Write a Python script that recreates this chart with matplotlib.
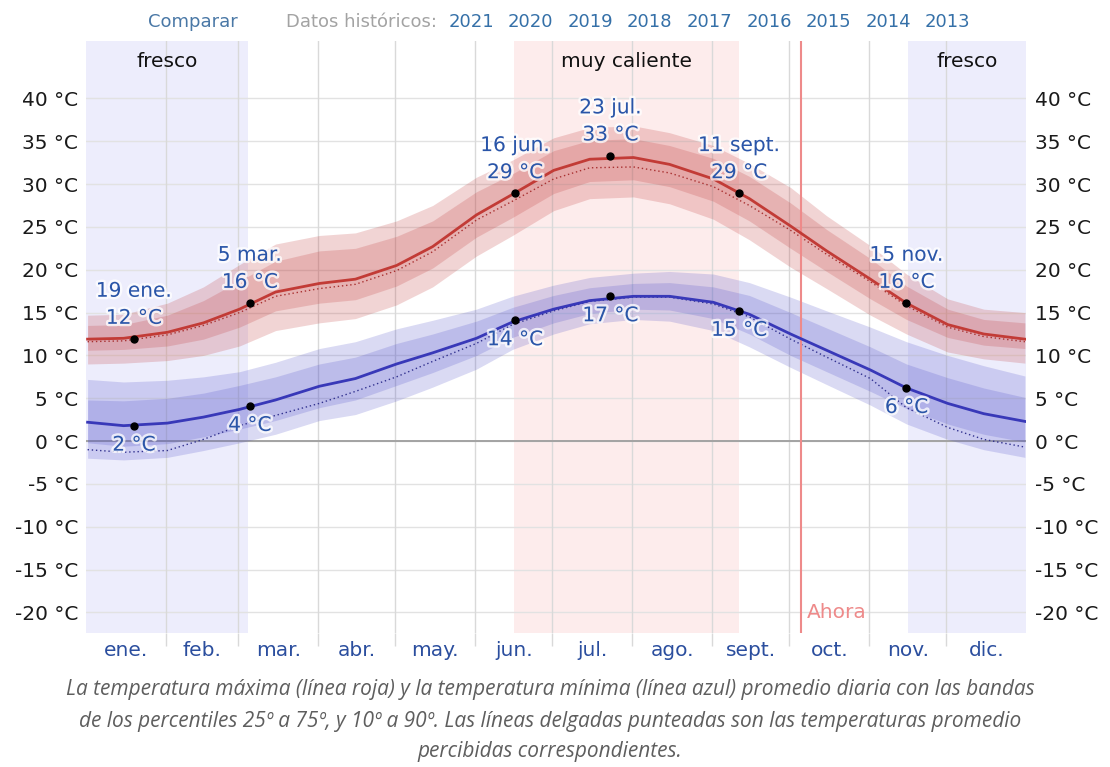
import numpy as np
import matplotlib
matplotlib.use('Agg')
import matplotlib.pyplot as plt
import matplotlib.patheffects as pe
from matplotlib.ticker import FixedLocator, NullFormatter, FixedFormatter

W, H, DPI = 1110, 767, 100

# ---------------- data ----------------
doy = [1, 15, 32, 46, 60, 74, 91, 105, 121, 135, 152, 166, 182,
       196, 213, 227, 244, 258, 274, 288, 305, 319, 335, 349, 365]

tmax = [11.9, 12.0, 12.7, 13.8, 15.4, 17.4, 18.4, 18.9, 20.5, 22.7, 26.4, 28.8, 31.6,
        32.9, 33.1, 32.3, 30.6, 28.3, 25.1, 22.2, 18.9, 16.1, 13.6, 12.5, 11.9]
tmax_p10 = [9.0, 9.1, 9.4, 10.0, 11.1, 12.9, 13.8, 14.3, 15.9, 18.0, 21.6, 24.0, 26.9,
            28.3, 28.5, 27.7, 25.9, 23.5, 20.3, 17.8, 14.7, 12.5, 10.4, 9.6, 9.1]
tmax_p25 = [10.6, 10.7, 11.1, 11.9, 13.3, 15.2, 16.1, 16.5, 18.1, 20.2, 23.8, 26.1, 28.9,
            30.3, 30.5, 29.7, 28.0, 25.7, 22.5, 19.8, 16.6, 14.2, 12.1, 11.2, 10.8]
tmax_p75 = [13.5, 13.6, 14.7, 16.4, 18.7, 21.0, 22.2, 22.5, 23.9, 25.7, 29.1, 31.2, 33.9,
            35.1, 35.3, 34.5, 33.0, 30.9, 27.8, 24.7, 21.3, 18.1, 15.4, 14.2, 13.8]
tmax_p90 = [14.7, 14.8, 16.1, 18.0, 20.6, 23.0, 24.0, 24.3, 25.7, 27.5, 30.8, 32.8, 35.4,
            36.6, 36.8, 36.0, 34.5, 32.4, 29.6, 26.3, 22.8, 19.5, 16.6, 15.4, 15.0]
tmax_feel = [11.6, 11.7, 12.4, 13.5, 15.0, 16.9, 17.8, 18.3, 19.9, 22.1, 25.8, 28.0, 30.6,
             31.9, 32.0, 31.3, 29.7, 27.5, 24.6, 21.8, 18.6, 15.8, 13.3, 12.2, 11.6]

tmin = [2.2, 1.8, 2.1, 2.8, 3.7, 4.8, 6.4, 7.3, 9.0, 10.3, 12.0, 13.9, 15.4,
        16.4, 16.9, 16.9, 16.2, 14.8, 12.5, 10.6, 8.3, 6.2, 4.4, 3.2, 2.3]
tmin_p10 = [-2.0, -2.2, -1.9, -1.1, -0.2, 0.8, 2.4, 3.1, 4.7, 6.3, 8.4, 10.7, 12.5,
            13.7, 14.2, 14.0, 12.9, 11.0, 8.6, 6.6, 4.2, 2.0, 0.2, -1.0, -1.9]
tmin_p25 = [-0.2, -0.6, -0.3, 0.5, 1.4, 2.4, 3.9, 4.8, 6.5, 8.0, 10.0, 12.1, 13.8,
            14.9, 15.4, 15.3, 14.3, 12.5, 10.0, 8.1, 5.8, 3.8, 2.0, 0.8, -0.1]
tmin_p75 = [4.8, 4.7, 5.0, 5.6, 6.5, 7.5, 9.0, 9.8, 11.4, 12.5, 14.0, 15.6, 17.0,
            17.9, 18.4, 18.5, 18.0, 17.0, 15.0, 13.2, 11.0, 9.0, 7.4, 6.2, 5.1]
tmin_p90 = [7.2, 6.9, 7.1, 7.5, 8.1, 9.2, 10.8, 11.6, 13.1, 14.1, 15.4, 16.9, 18.2,
            19.1, 19.6, 19.8, 19.5, 18.5, 16.8, 15.2, 13.3, 11.6, 10.0, 8.8, 7.6]
tmin_feel = [-1.0, -1.3, -1.1, 0.2, 1.8, 3.0, 4.4, 5.8, 7.5, 9.3, 11.4, 13.6, 15.2,
             16.3, 16.8, 16.8, 16.0, 14.5, 11.9, 9.8, 7.3, 3.9, 1.6, 0.2, -0.7]

months = ['ene.', 'feb.', 'mar.', 'abr.', 'may.', 'jun.', 'jul.', 'ago.',
          'sept.', 'oct.', 'nov.', 'dic.']
month_start = [1, 32, 60, 91, 121, 152, 182, 213, 244, 274, 305, 335, 366]

hl_doy = [19, 64, 167, 204, 254, 319]
hl_date = ['19 ene.', '5 mar.', '16 jun.', '23 jul.', '11 sept.', '15 nov.']
hl_max = [11.9, 16.1, 28.9, 33.3, 28.9, 16.1]
hl_max_lbl = [12, 16, 29, 33, 29, 16]
hl_min = [1.8, 4.1, 14.1, 16.9, 15.2, 6.2]
hl_min_lbl = [2, 4, 14, 17, 15, 6]

cool_periods = [(1, 63.7), (320, 366)]
hot_periods = [(167, 254.5)]
season_labels = [('fresco', 1, 63.7), ('muy caliente', 167, 254.5), ('fresco', 320, 366)]
now_doy = 278.5

yticks = [-20, -15, -10, -5, 0, 5, 10, 15, 20, 25, 30, 35, 40]
years = ['2021', '2020', '2019', '2018', '2017', '2016', '2015', '2014', '2013']

# ---------------- figure ----------------
plt.rcParams['font.family'] = ['DejaVu Sans']
fig = plt.figure(figsize=(W / DPI, H / DPI), dpi=DPI)
fig.patch.set_facecolor('white')
left, right, top, bottom = 86.3, 1026.2, 41, 633
ax = fig.add_axes([left / W, 1 - bottom / H, (right - left) / W, (bottom - top) / H])
ax.set_xlim(0, 365)
ax.set_ylim(-22.4, 46.7)
for s in ax.spines.values():
    s.set_visible(False)

x = np.array(doy) - 0.5

for a, b in cool_periods:
    ax.axvspan(a - 1, b - 1, color='#EDEDFC', zorder=0, lw=0)
for a, b in hot_periods:
    ax.axvspan(a - 1, b - 1, color='#FDECEC', zorder=0, lw=0)

# grid
for t in yticks:
    ax.axhline(t, color='#E2E2E2', lw=1.0, zorder=0.5)
ax.axhline(0, color='#A3A3A3', lw=1.4, zorder=0.6)
for m in month_start[1:-1]:
    ax.axvline(m - 1, color='#D9D9D9', lw=1.0, zorder=0.5)

red = (0.76, 0.24, 0.24)
blue = (0.28, 0.28, 0.78)
ax.fill_between(x, tmax_p10, tmax_p90, color=red, alpha=0.22, lw=0, zorder=1)
ax.fill_between(x, tmax_p25, tmax_p75, color=red, alpha=0.22, lw=0, zorder=1.1)
ax.fill_between(x, tmin_p10, tmin_p90, color=blue, alpha=0.20, lw=0, zorder=1)
ax.fill_between(x, tmin_p25, tmin_p75, color=blue, alpha=0.20, lw=0, zorder=1.1)

ax.plot(x, tmax_feel, color='#A83030', lw=1.0, ls=(0, (1, 2)), zorder=2)
ax.plot(x, tmin_feel, color='#30308E', lw=1.0, ls=(0, (1, 2)), zorder=2)
ax.plot(x, tmax, color='#C23B36', lw=2.0, zorder=3)
ax.plot(x, tmin, color='#3838B8', lw=2.0, zorder=3)

# now line
ax.axvline(now_doy - 1, color='#EE8A8A', lw=1.5, zorder=2.5)
ax.text(now_doy - 1 + 2.2, -20, 'Ahora', color='#EE8A8A', fontsize=14.5,
        va='center', ha='left', zorder=5)

# highlights
halo = [pe.withStroke(linewidth=3.5, foreground='white', alpha=0.75)]
lblc = '#2A55A8'
hx = np.array(hl_doy) - 0.5
ax.plot(hx, hl_max, 'o', color='black', ms=5, zorder=4)
ax.plot(hx, hl_min, 'o', color='black', ms=5, zorder=4)
for xi, d, vmax, lmax, vmin, lmin in zip(hx, hl_date, hl_max, hl_max_lbl, hl_min, hl_min_lbl):
    ax.annotate(f'{lmax} °C', (xi, vmax), xytext=(0, 15), textcoords='offset points',
                ha='center', va='center', fontsize=14.5, color=lblc, zorder=6, path_effects=halo)
    ax.annotate(d, (xi, vmax), xytext=(0, 34.5), textcoords='offset points',
                ha='center', va='center', fontsize=14.5, color=lblc, zorder=6, path_effects=halo)
    ax.annotate(f'{lmin} °C', (xi, vmin), xytext=(0, -14), textcoords='offset points',
                ha='center', va='center', fontsize=14.5, color=lblc, zorder=6, path_effects=halo)

# season labels
for name, a, b in season_labels:
    ax.text((a + b) / 2 - 1, 0.965, name, transform=ax.get_xaxis_transform(),
            ha='center', va='center', fontsize=14.5, color='#111111', zorder=6)

# axes ticks
ax.yaxis.set_major_locator(FixedLocator(yticks))
ax.yaxis.set_major_formatter(FixedFormatter([f'{t} °C' for t in yticks]))
ax.tick_params(axis='y', which='both', length=0, labelsize=14.5, labelcolor='#1A1A1A',
               left=False, right=False, labelleft=True, labelright=True, pad=6)

ax.xaxis.set_major_locator(FixedLocator([m - 1 for m in month_start[1:-1]]))
ax.xaxis.set_major_formatter(NullFormatter())
mids = [(month_start[i] - 1 + month_start[i + 1] - 1) / 2 for i in range(12)]
ax.xaxis.set_minor_locator(FixedLocator(mids))
ax.xaxis.set_minor_formatter(FixedFormatter(months))
ax.tick_params(axis='x', which='major', length=9, color='#D9D9D9', width=1)
ax.tick_params(axis='x', which='minor', length=0, labelsize=14.5, labelcolor='#2B4E9E', pad=6)

# header
def ftext(px, py, s, **kw):
    fig.text(px / W, 1 - py / H, s, **kw)

ftext(193, 22, 'Comparar', ha='center', va='center', fontsize=13, color='#4A78A6')
ftext(361, 22, 'Datos históricos:', ha='center', va='center', fontsize=13, color='#A3A3A3')
for i, yv in enumerate(years):
    ftext(471 + i * 59.6, 22, yv, ha='center', va='center', fontsize=13, color='#3570A8')

# caption
cap = ['La temperatura máxima (línea roja) y la temperatura mínima (línea azul) promedio diaria con las bandas',
       'de los percentiles 25º a 75º, y 10º a 90º. Las líneas delgadas punteadas son las temperaturas promedio',
       'percibidas correspondientes.']
for i, line in enumerate(cap):
    ftext(550, 690 + i * 31, line, ha='center', va='center', fontsize=15,
          style='italic', family='Open Sans', color='#5E5E5E')

fig.savefig('out.png', dpi=DPI)
